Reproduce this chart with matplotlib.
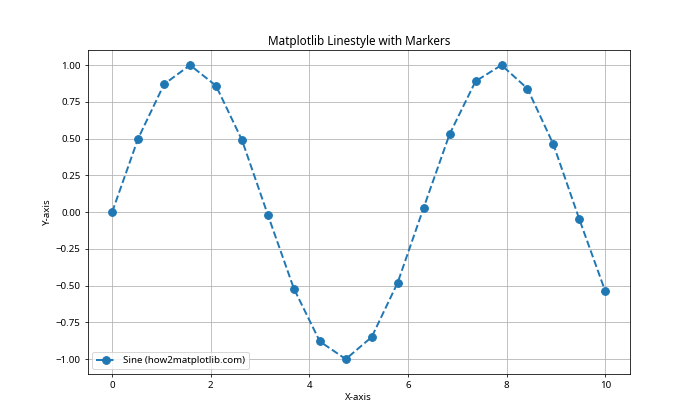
import matplotlib.pyplot as plt

plt.rcParams['font.family'] = ['Noto Sans', 'DejaVu Sans']

x = [0.0, 0.526, 1.053, 1.579, 2.105, 2.632, 3.158, 3.684, 4.211, 4.737,
     5.263, 5.789, 6.316, 6.842, 7.368, 7.895, 8.421, 8.947, 9.474, 10.0]
y = [0.0, 0.50, 0.87, 1.00, 0.86, 0.49, -0.02, -0.52, -0.88, -1.00,
     -0.85, -0.48, 0.03, 0.53, 0.89, 1.00, 0.84, 0.46, -0.05, -0.54]

fig, ax = plt.subplots(figsize=(10, 6), dpi=70)
ax.plot(x, y, linestyle='--', marker='o', linewidth=2, markersize=8,
        label='Sine (how2matplotlib.com)')
ax.set_title('Matplotlib Linestyle with Markers')
ax.set_xlabel('X-axis')
ax.set_ylabel('Y-axis')
ax.legend(loc='lower left')
ax.grid(True)

fig.savefig('out.png')
